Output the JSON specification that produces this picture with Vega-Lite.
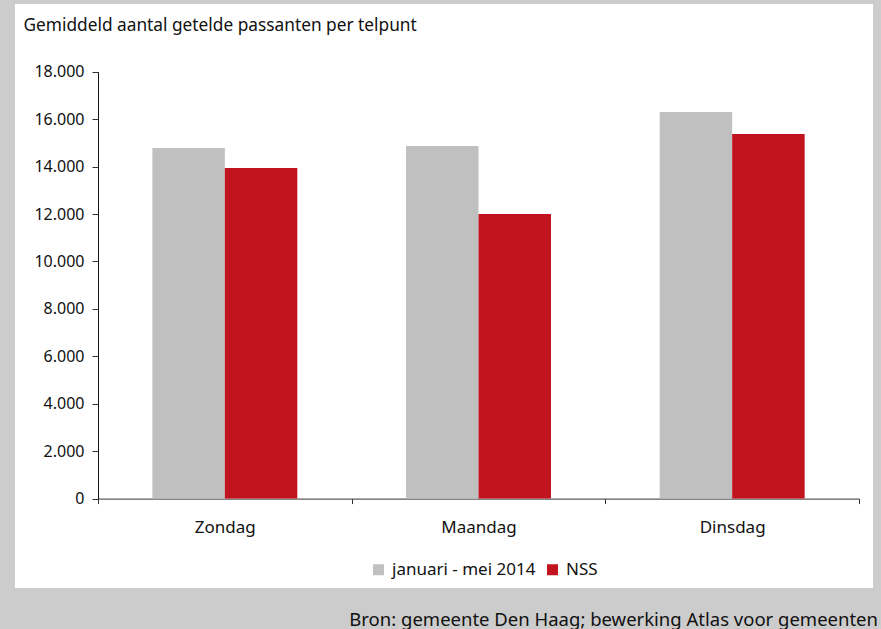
{
  "$schema": "https://vega.github.io/schema/vega-lite/v6.json",
  "width": 858,
  "height": 584,
  "autosize": {"type": "none"},
  "padding": {"left": 15, "top": 4, "right": 8, "bottom": 41},
  "background": "#cccccc",
  "title": {
    "text": "Bron: gemeente Den Haag; bewerking Atlas voor gemeenten",
    "orient": "bottom",
    "anchor": "end",
    "offset": 23,
    "dx": 5,
    "font": "Noto Sans",
    "fontSize": 18.5,
    "fontWeight": "normal",
    "color": "#111111"
  },
  "data": {
    "values": [
      {"dag": "Zondag", "reeks": "januari - mei 2014", "waarde": 14780},
      {"dag": "Zondag", "reeks": "NSS", "waarde": 13940},
      {"dag": "Maandag", "reeks": "januari - mei 2014", "waarde": 14870},
      {"dag": "Maandag", "reeks": "NSS", "waarde": 12000},
      {"dag": "Dinsdag", "reeks": "januari - mei 2014", "waarde": 16300},
      {"dag": "Dinsdag", "reeks": "NSS", "waarde": 15370}
    ]
  },
  "mark": {"type": "bar"},
  "encoding": {
    "x": {
      "field": "dag",
      "type": "nominal",
      "sort": ["Zondag", "Maandag", "Dinsdag"],
      "scale": {"range": [83, 844], "paddingInner": 0, "paddingOuter": 0},
      "axis": {
        "title": null,
        "orient": "bottom",
        "offset": -89.4,
        "tickBand": "extent",
        "tickSize": 5,
        "tickColor": "#333333",
        "domainColor": "#333333",
        "labelAngle": 0,
        "labelPadding": 16,
        "labelFont": "Noto Sans",
        "labelFontSize": 17,
        "labelColor": "#111111",
        "grid": false
      }
    },
    "xOffset": {
      "field": "reeks",
      "type": "nominal",
      "sort": ["januari - mei 2014", "NSS"],
      "scale": {"paddingOuter": 0.75, "paddingInner": 0}
    },
    "y": {
      "field": "waarde",
      "type": "quantitative",
      "scale": {"domain": [0, 18000], "range": [494.6, 67.7], "nice": false, "zero": true},
      "axis": {
        "values": [0, 2000, 4000, 6000, 8000, 10000, 12000, 14000, 16000, 18000],
        "labelExpr": "replace(format(datum.value, ','), ',', '.')",
        "offset": -83,
        "tickSize": 6,
        "tickColor": "#333333",
        "domainColor": "#111111",
        "labelPadding": 8,
        "labelFont": "Noto Sans",
        "labelFontSize": 16,
        "labelColor": "#111111",
        "grid": false,
        "title": "Gemiddeld aantal getelde passanten per telpunt",
        "titleAngle": 0,
        "titleAlign": "left",
        "titleBaseline": "alphabetic",
        "titleX": -75,
        "titleY": 26,
        "titleFont": "Noto Sans",
        "titleFontSize": 17.3,
        "titleFontWeight": "normal",
        "titleColor": "#111111"
      }
    },
    "color": {
      "field": "reeks",
      "type": "nominal",
      "sort": ["januari - mei 2014", "NSS"],
      "scale": {"domain": ["januari - mei 2014", "NSS"], "range": ["#c0c0c0", "#c1141f"]},
      "legend": {
        "title": null,
        "orient": "none",
        "direction": "horizontal",
        "legendX": 355,
        "legendY": 557,
        "symbolType": "square",
        "symbolSize": 121,
        "symbolStrokeWidth": 0,
        "symbolOpacity": 1,
        "labelOffset": 5,
        "columnPadding": 8,
        "labelFont": "Noto Sans",
        "labelFontSize": 17,
        "labelColor": "#111111"
      }
    }
  },
  "config": {
    "view": {"fill": "white", "stroke": null}
  }
}
